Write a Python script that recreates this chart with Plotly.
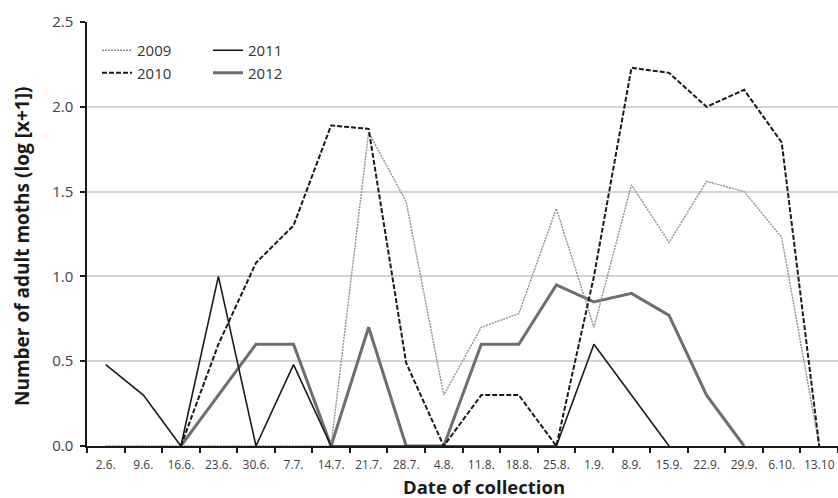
import plotly.graph_objects as go

dates = ["2.6.", "9.6.", "16.6.", "23.6.", "30.6.", "7.7.", "14.7.", "21.7.", "28.7.", "4.8.",
         "11.8.", "18.8.", "25.8.", "1.9.", "8.9.", "15.9.", "22.9.", "29.9.", "6.10.", "13.10"]

y2009 = [0, 0, 0, 0, 0, 0, 0, 1.85, 1.44, 0.30, 0.70, 0.78, 1.40, 0.70, 1.54, 1.20, 1.56, 1.50, 1.23, 0]
y2010 = [None, None, 0, 0.60, 1.08, 1.30, 1.89, 1.87, 0.49, 0, 0.30, 0.30, 0, 1.00, 2.23, 2.20, 2.00, 2.10, 1.79, 0]
y2011 = [0.48, 0.30, 0, 1.00, 0, 0.48, 0, 0, 0, 0, 0, 0, 0, 0.60, 0.30, 0, None, None, None, None]
y2012 = [None, None, 0, 0.30, 0.60, 0.60, 0, 0.70, 0, 0, 0.60, 0.60, 0.95, 0.85, 0.90, 0.77, 0.30, 0, None, None]

yticks = [0, 0.5, 1.0, 1.5, 2.0, 2.5]
ytick_text = ["0.0", "0.5", "1.0", "1.5", "2.0", "2.5"]

FONT = "Open Sans"
W, H = 838, 498
L, R, T, B = 87, 0, 22, 52
pw, ph = W - L - R, H - T - B

def px_x(x):
    return (x - L) / pw

def px_y(y):
    return (H - B - y) / ph

fig = go.Figure()
fig.add_trace(go.Scatter(x=dates, y=y2012, name="2012", mode="lines",
                         line=dict(color="#6e6e6e", width=3), legend="legend2"))
fig.add_trace(go.Scatter(x=dates, y=y2009, name="2009", mode="lines",
                         line=dict(color="#8f8f8f", width=1.4, dash="2px,1px"), legend="legend"))
fig.add_trace(go.Scatter(x=dates, y=y2010, name="2010", mode="lines",
                         line=dict(color="#1a1a1a", width=2, dash="5px,2px"), legend="legend"))
fig.add_trace(go.Scatter(x=dates, y=y2011, name="2011", mode="lines",
                         line=dict(color="#1a1a1a", width=1.6), legend="legend2"))

fig.update_layout(
    width=W, height=H,
    margin=dict(l=L, r=R, t=T, b=B),
    paper_bgcolor="white", plot_bgcolor="white",
    font=dict(family=FONT, color="#404040"),
    legend=dict(x=px_x(97), y=px_y(34), xanchor="left", yanchor="top",
                bgcolor="rgba(0,0,0,0)", font=dict(size=15, color="#333333"),
                traceorder="normal", tracegroupgap=0),
    legend2=dict(x=px_x(208), y=px_y(34), xanchor="left", yanchor="top",
                 bgcolor="rgba(0,0,0,0)", font=dict(size=15, color="#333333"),
                 traceorder="reversed", tracegroupgap=0),
    xaxis=dict(type="category", range=[-0.5, 19.5], showline=True, linecolor="#1a1a1a",
               linewidth=2, ticks="outside", tickson="boundaries", ticklen=5,
               tickcolor="#1a1a1a", tickwidth=1.5, showgrid=False, tickangle=0,
               tickfont=dict(size=12, color="#404040"), automargin=False,
               ticklabelstandoff=7),
    yaxis=dict(range=[0, 2.5], tickvals=yticks, ticktext=ytick_text, showline=True,
               linecolor="#1a1a1a", linewidth=1.5, ticks="outside", ticklen=5,
               tickcolor="#1a1a1a", tickwidth=1.5, showgrid=True, gridcolor="#d4d4d4",
               gridwidth=1.5, zeroline=False, tickfont=dict(size=15, color="#404040"),
               ticklabelstandoff=4, automargin=False),
    annotations=[
        dict(text="<b>Date of collection</b>", xref="paper", yref="paper",
             x=px_x(484), y=px_y(486), xanchor="center", yanchor="middle",
             showarrow=False, font=dict(size=18.5, color="#1a1a1a", family=FONT)),
        dict(text="<b>Number of adult moths (log [x+1])</b>", xref="paper", yref="paper",
             x=px_x(22), y=px_y(247), xanchor="center", yanchor="middle", textangle=-90,
             showarrow=False, font=dict(size=19, color="#1a1a1a", family=FONT)),
    ],
)

fig.write_html("out.html", config={"displayModeBar": False},
               post_script="document.body.style.margin='0';document.body.style.overflow='hidden';")
